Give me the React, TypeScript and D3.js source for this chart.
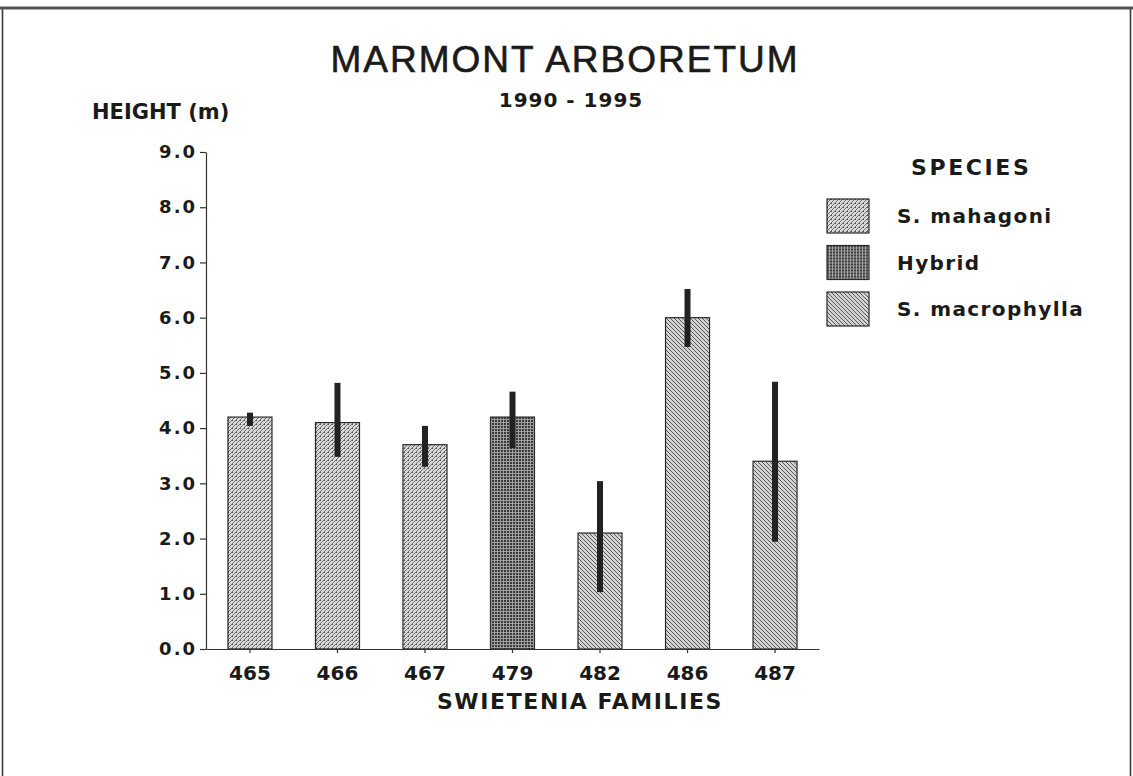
import React, { useEffect, useRef } from "react";
import * as d3 from "d3";

// Marmont Arboretum, mean height per Swietenia family, 1990 - 1995
const families = ["465", "466", "467", "479", "482", "486", "487"];
const familySpecies = [
  "S. mahagoni",
  "S. mahagoni",
  "S. mahagoni",
  "Hybrid",
  "S. macrophylla",
  "S. macrophylla",
  "S. macrophylla",
];
const meanHeight = [4.2, 4.1, 3.7, 4.2, 2.1, 6.0, 3.4];
const errorLow = [4.04, 3.48, 3.3, 3.64, 1.03, 5.47, 1.94];
const errorHigh = [4.28, 4.82, 4.04, 4.66, 3.04, 6.52, 4.84];
const speciesNames = ["S. mahagoni", "Hybrid", "S. macrophylla"];
const yTickValues = [0, 1, 2, 3, 4, 5, 6, 7, 8, 9];

const WIDTH = 1133;
const HEIGHT = 776;
const plot = { left: 206, right: 819, top: 152, bottom: 649 };

const patternId = (s: string) =>
  s === "Hybrid" ? "pat-hybrid" : s === "S. mahagoni" ? "pat-mahagoni" : "pat-macrophylla";

const BOLD = "'DejaVu Sans', sans-serif";
const INK = "#1a1a1a";

const MarmontChart = () => {
  const svgRef = useRef<SVGSVGElement>(null);

  useEffect(() => {
    const svg = d3.select(svgRef.current);
    svg.selectAll("*").remove();

    // fill patterns, like the old hatched printer fills
    const defs = svg.append("defs");
    const mah = defs
      .append("pattern")
      .attr("id", "pat-mahagoni")
      .attr("patternUnits", "userSpaceOnUse")
      .attr("width", 4)
      .attr("height", 4);
    mah.append("rect").attr("width", 4).attr("height", 4).attr("fill", "#d8d8d8");
    mah
      .append("path")
      .attr("d", "M-1,1 l2,-2 M0,4 l4,-4 M3,5 l2,-2")
      .attr("stroke", "#626262")
      .attr("stroke-width", 0.9);
    mah.append("rect").attr("x", 0).attr("y", 0).attr("width", 1).attr("height", 1).attr("fill", "#555");

    const hyb = defs
      .append("pattern")
      .attr("id", "pat-hybrid")
      .attr("patternUnits", "userSpaceOnUse")
      .attr("width", 3)
      .attr("height", 3);
    hyb.append("rect").attr("width", 3).attr("height", 3).attr("fill", "#a0a0a0");
    hyb.append("rect").attr("width", 2).attr("height", 2).attr("fill", "#3a3a3a");

    const mac = defs
      .append("pattern")
      .attr("id", "pat-macrophylla")
      .attr("patternUnits", "userSpaceOnUse")
      .attr("width", 4)
      .attr("height", 4);
    mac.append("rect").attr("width", 4).attr("height", 4).attr("fill", "#d2d2d2");
    mac
      .append("path")
      .attr("d", "M-1,3 l2,2 M0,0 l4,4 M3,-1 l2,2")
      .attr("stroke", "#555")
      .attr("stroke-width", 0.95);

    // frame of the scanned page
    svg
      .append("rect")
      .attr("x", 2.5)
      .attr("y", 8)
      .attr("width", 1128)
      .attr("height", 800)
      .attr("fill", "none")
      .attr("stroke", "#3a3a3a")
      .attr("stroke-width", 1.6);
    svg
      .append("line")
      .attr("x1", 0)
      .attr("x2", WIDTH)
      .attr("y1", 8)
      .attr("y2", 8)
      .attr("stroke", "#555")
      .attr("stroke-width", 3);

    const xScale = d3
      .scaleBand()
      .domain(families)
      .range([plot.left, plot.right])
      .paddingInner(0.497)
      .paddingOuter(0.251);
    const yScale = d3.scaleLinear().domain([0, 9]).range([plot.bottom, plot.top]);

    // y axis
    const yAxis = svg
      .append("g")
      .attr("transform", `translate(${plot.left},0)`)
      .call(
        d3
          .axisLeft(yScale)
          .tickValues(yTickValues)
          .tickFormat(d3.format(".1f"))
          .tickSize(6)
          .tickSizeOuter(0)
          .tickPadding(3)
      );
    yAxis.select(".domain").attr("stroke", "#333").attr("stroke-width", 1.2);
    yAxis.selectAll(".tick line").attr("stroke", "#333").attr("stroke-width", 1.2);
    yAxis
      .selectAll(".tick text")
      .attr("font-family", BOLD)
      .attr("font-weight", "bold")
      .attr("font-size", 18)
      .attr("letter-spacing", 2)
      .attr("fill", INK);

    // bars
    const idx = d3.range(families.length);
    svg
      .selectAll(".bar")
      .data(idx)
      .enter()
      .append("rect")
      .attr("class", "bar")
      .attr("x", (i) => xScale(families[i]) as number)
      .attr("y", (i) => yScale(meanHeight[i]))
      .attr("width", xScale.bandwidth())
      .attr("height", (i) => yScale(0) - yScale(meanHeight[i]))
      .attr("fill", (i) => `url(#${patternId(familySpecies[i])})`)
      .attr("stroke", "#2a2a2a")
      .attr("stroke-width", 1.2);

    // error bars
    svg
      .selectAll(".err")
      .data(idx)
      .enter()
      .append("line")
      .attr("class", "err")
      .attr("x1", (i) => (xScale(families[i]) as number) + xScale.bandwidth() / 2)
      .attr("x2", (i) => (xScale(families[i]) as number) + xScale.bandwidth() / 2)
      .attr("y1", (i) => yScale(errorHigh[i]))
      .attr("y2", (i) => yScale(errorLow[i]))
      .attr("stroke", "#222")
      .attr("stroke-width", 6);

    // x axis
    const xAxis = svg
      .append("g")
      .attr("transform", `translate(0,${plot.bottom})`)
      .call(d3.axisBottom(xScale).tickSize(4).tickSizeOuter(0).tickPadding(13));
    xAxis.select(".domain").attr("stroke", "#333").attr("stroke-width", 1.2);
    xAxis.selectAll(".tick line").attr("stroke", "#333").attr("stroke-width", 1.2);
    xAxis
      .selectAll(".tick text")
      .attr("font-family", BOLD)
      .attr("font-weight", "bold")
      .attr("font-size", 20)
      .attr("fill", INK);

    // titles
    svg
      .append("text")
      .attr("x", 565)
      .attr("y", 72)
      .attr("text-anchor", "middle")
      .attr("font-family", "'Liberation Sans', Arial, sans-serif")
      .attr("font-size", 37)
      .attr("letter-spacing", 2)
      .attr("fill", INK)
      .attr("stroke", INK)
      .attr("stroke-width", 0.6)
      .text("MARMONT ARBORETUM");
    svg
      .append("text")
      .attr("x", 571)
      .attr("y", 107)
      .attr("text-anchor", "middle")
      .attr("font-family", BOLD)
      .attr("font-weight", "bold")
      .attr("font-size", 20)
      .attr("letter-spacing", 1)
      .attr("fill", INK)
      .text("1990 - 1995");
    svg
      .append("text")
      .attr("x", 92)
      .attr("y", 119)
      .attr("font-family", BOLD)
      .attr("font-weight", "bold")
      .attr("font-size", 21)
      .attr("fill", INK)
      .text("HEIGHT (m)");
    svg
      .append("text")
      .attr("x", 580)
      .attr("y", 709)
      .attr("text-anchor", "middle")
      .attr("font-family", BOLD)
      .attr("font-weight", "bold")
      .attr("font-size", 22)
      .attr("letter-spacing", 1.6)
      .attr("fill", INK)
      .text("SWIETENIA FAMILIES");

    // legend
    const legend = svg.append("g").attr("transform", "translate(827,0)");
    legend
      .append("text")
      .attr("x", 84)
      .attr("y", 175)
      .attr("font-family", BOLD)
      .attr("font-weight", "bold")
      .attr("font-size", 22)
      .attr("letter-spacing", 2.6)
      .attr("fill", INK)
      .text("SPECIES");
    const items = legend
      .selectAll(".item")
      .data(speciesNames)
      .enter()
      .append("g")
      .attr("class", "item")
      .attr("transform", (_, i) => `translate(0,${199 + i * 46.5})`);
    items
      .append("rect")
      .attr("width", 42)
      .attr("height", 34)
      .attr("fill", (d) => `url(#${patternId(d)})`)
      .attr("stroke", "#2a2a2a")
      .attr("stroke-width", 1.2);
    items
      .append("text")
      .attr("x", 70)
      .attr("y", 24)
      .attr("font-family", BOLD)
      .attr("font-weight", "bold")
      .attr("font-size", 20)
      .attr("letter-spacing", 1.4)
      .attr("fill", INK)
      .text((d) => d);
  }, []);

  return (
    <svg
      ref={svgRef}
      width={WIDTH}
      height={HEIGHT}
      style={{ position: "absolute", left: 0, top: 0, background: "#fff" }}
    />
  );
};

export default function App() {
  return <MarmontChart />;
}
